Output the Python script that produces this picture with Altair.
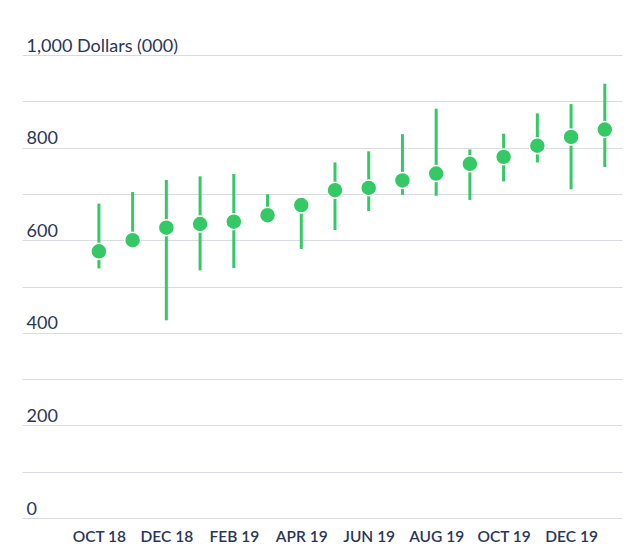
import altair as alt
import pandas as pd

months = ["OCT 18", "NOV 18", "DEC 18", "JAN 19", "FEB 19", "MAR 19", "APR 19", "MAY 19",
          "JUN 19", "JUL 19", "AUG 19", "SEP 19", "OCT 19", "NOV 19", "DEC 19", "JAN 20"]
mid = [576, 600, 627, 635, 640, 654, 676, 708, 713, 729, 744, 765, 780, 804, 823, 839]
low = [539, 596, 427, 535, 540, 650, 581, 622, 663, 698, 696, 687, 727, 768, 710, 758]
high = [679, 704, 730, 738, 743, 699, 680, 768, 792, 829, 884, 796, 830, 874, 894, 938]

df = pd.DataFrame({"idx": list(range(len(months))), "month": months,
                   "mid": mid, "low": low, "high": high})

GREEN = "#34c965"
TEXT = "#2a3658"
FONT = "Lato"

label_arr = "[" + ",".join("'" + m + "'" for m in months) + "]"

x = alt.X("idx:Q", scale=alt.Scale(domain=[-2.28, 15.51], nice=False, zero=False),
          axis=alt.Axis(values=list(range(0, 16, 2)), labelExpr=label_arr + "[datum.value]",
                        grid=False, ticks=False, tickSize=0, domain=False, title=None,
                        labelPadding=11, labelFontSize=15.5, labelFontWeight=600,
                        labelColor=TEXT, labelFont=FONT))

yaxis = alt.Axis(values=list(range(0, 1001, 100)),
                 labelExpr="datum.value == 1000 ? '1,000 Dollars (000)' : (datum.value % 200 == 0 ? '' + datum.value : '')",
                 grid=True, gridColor="#d8dbe4", gridWidth=1, ticks=False, tickSize=0,
                 domain=False, title=None, labelAlign="left", labelBaseline="alphabetic",
                 labelPadding=-4, labelOffset=-4, labelFontSize=18, labelColor=TEXT,
                 labelFont=FONT, labelBound=False, labelOverlap=False)

yscale = alt.Scale(domain=[0, 1000], nice=False)

base = alt.Chart(df)
whisk = base.mark_rule(color=GREEN, strokeWidth=3).encode(
    x=x, y=alt.Y("low:Q", scale=yscale, axis=yaxis), y2="high:Q")
dots = base.mark_circle(color=GREEN, opacity=1, size=255, stroke="white", strokeWidth=1.5).encode(
    x=x, y=alt.Y("mid:Q", scale=yscale))

chart = (whisk + dots).properties(
    width=600, height=463,
    autosize=alt.AutoSizeParams(type="none"),
    padding={"left": 14, "top": 47, "right": 1, "bottom": 26},
).configure_view(stroke=None)

chart.save("out.html", embed_options={"renderer": "svg", "actions": False})
